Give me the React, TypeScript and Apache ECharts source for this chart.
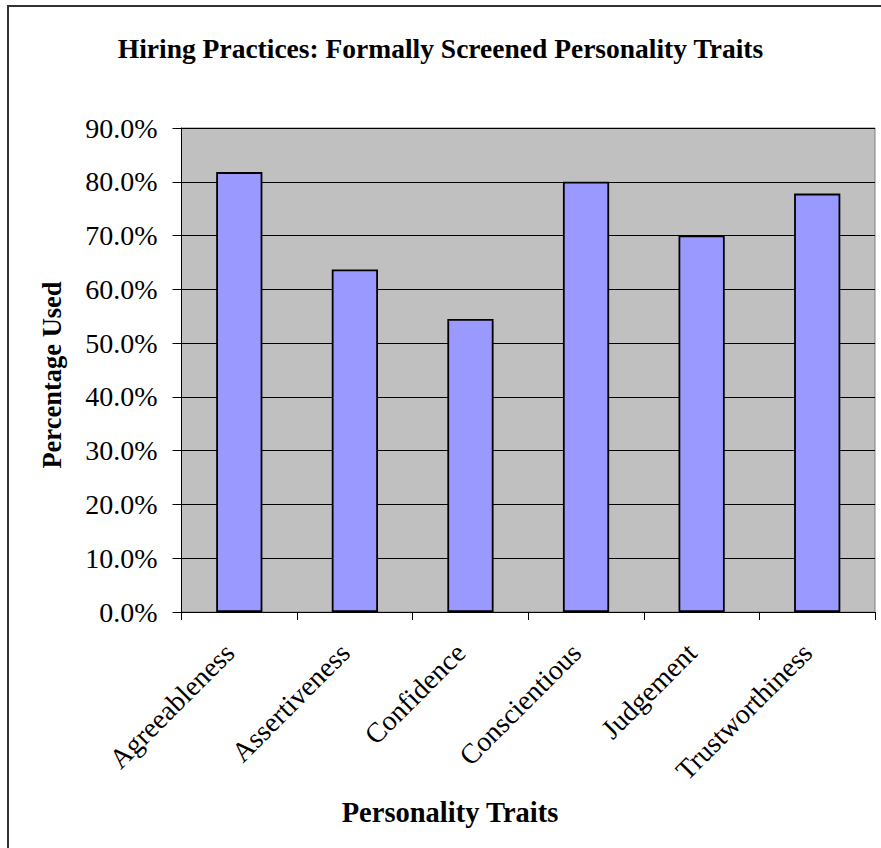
import React, { useEffect, useRef } from "react";
import * as echarts from "echarts";

const categories = ["Agreeableness", "Assertiveness", "Confidence", "Conscientious", "Judgement", "Trustworthiness"];
const values = [81.8, 63.7, 54.5, 80.0, 70.0, 77.8];
const yMin = 0;
const yMax = 90;
const yInterval = 10;

const chartTitle = "Hiring Practices: Formally Screened Personality Traits";
const xName = "Personality Traits";
const yName = "Percentage Used";

const FONT = "'Liberation Serif', 'Times New Roman', serif";

export default function App() {
  const ref = useRef<HTMLDivElement>(null);
  useEffect(() => {
    if (!ref.current) return;
    const chart = echarts.init(ref.current, null, { renderer: "svg" });
    chart.setOption({
      animation: false,
      backgroundColor: "#ffffff",
      title: {
        text: chartTitle,
        left: "center",
        top: 29,
        textStyle: { fontFamily: FONT, fontWeight: "bold", fontSize: 27.5, color: "#000" },
      },
      grid: {
        left: 181.5,
        top: 128,
        right: 6,
        bottom: 236,
        show: true,
        backgroundColor: "#C0C0C0",
        borderColor: "#808080",
        borderWidth: 1,
      },
      xAxis: {
        type: "category",
        data: categories,
        boundaryGap: true,
        axisLine: { show: true, lineStyle: { color: "#000", width: 1 } },
        axisTick: { show: true, length: 8, alignWithLabel: false, lineStyle: { color: "#000" } },
        axisLabel: {
          rotate: 45,
          interval: 0,
          margin: 46,
          verticalAlign: "bottom",
          fontFamily: FONT,
          fontSize: 28,
          color: "#000",
        },
        splitLine: { show: false },
      },
      yAxis: {
        type: "value",
        min: yMin,
        max: yMax,
        interval: yInterval,
        axisLine: { show: true, lineStyle: { color: "#000", width: 1 } },
        axisTick: { show: true, length: 9, lineStyle: { color: "#000" } },
        axisLabel: {
          margin: 24,
          fontFamily: FONT,
          fontSize: 28,
          color: "#000",
          formatter: (v: number) => v.toFixed(1) + "%",
        },
        splitLine: { show: true, lineStyle: { color: "#000", width: 1 } },
      },
      series: [
        {
          type: "bar",
          data: values,
          barWidth: "40%",
          itemStyle: { color: "#9999FF", borderColor: "#000", borderWidth: 1.8 },
        },
      ],
      graphic: [
        {
          type: "rect",
          shape: { x: 8, y: 6, width: 890, height: 860 },
          style: { fill: "none", stroke: "#333", lineWidth: 2 },
          silent: true,
        },
        {
          type: "text",
          x: 52,
          y: 375,
          rotation: Math.PI / 2,
          style: {
            text: yName,
            fontFamily: FONT,
            fontWeight: "bold",
            fontSize: 26.5,
            fill: "#000",
            align: "center",
            verticalAlign: "middle",
          },
        },
        {
          type: "text",
          x: 450,
          y: 812,
          style: {
            text: xName,
            fontFamily: FONT,
            fontWeight: "bold",
            fontSize: 28.5,
            fill: "#000",
            align: "center",
            verticalAlign: "middle",
          },
        },
      ],
    });
    return () => chart.dispose();
  }, []);
  return (
    <div
      ref={ref}
      style={{ position: "absolute", left: 0, top: 0, width: 881, height: 848 }}
    />
  );
}
